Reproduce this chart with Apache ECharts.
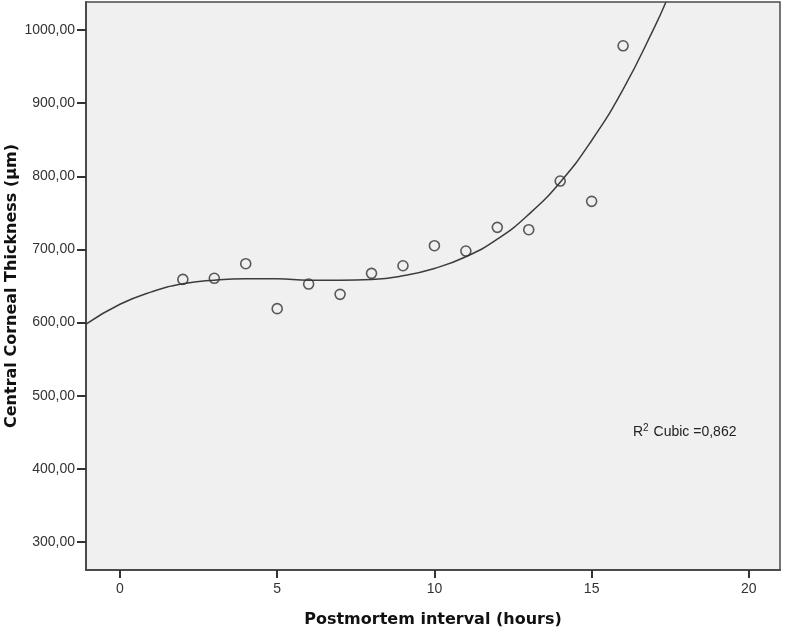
<!DOCTYPE html>
<html>
<head>
<meta charset="utf-8">
<title>Central Corneal Thickness vs Postmortem interval</title>
<script src="https://cdn.jsdelivr.net/npm/echarts@6/dist/echarts.min.js"></script>
<style>
  html, body { margin: 0; padding: 0; background: #ffffff; }
  #chart { width: 786px; height: 632px; }
</style>
</head>
<body>
<div id="chart"></div>
<script>
// observed points
var hours = [2, 3, 4, 5, 6, 7, 8, 9, 10, 11, 12, 13, 14, 15, 16];
var thickness = [659, 660.5, 680.5, 619, 652.7, 638.6, 667.3, 677.7, 705.1, 697.8, 730.2, 727, 793.5, 765.8, 978.5];

// fitted cubic curve
var fitHours = [-1.08, 0, 1, 2, 3, 4, 5, 6, 7, 8, 9, 10, 11, 12, 13, 14, 15, 16, 17, 17.36];
var fitThickness = [598, 625, 642, 653, 658, 660, 660, 658, 658, 659, 664, 674, 690, 714, 748, 792, 849, 919, 1004, 1038];

var xTicks = [0, 5, 10, 15, 20];
var yTicks = [300, 400, 500, 600, 700, 800, 900, 1000];

var fitLabel = 'Cubic =0,862';

function zip(a, b) {
  var out = [];
  for (var i = 0; i < a.length; i++) out.push([a[i], b[i]]);
  return out;
}

var myChart = echarts.init(document.getElementById('chart'));
var labelFont = 'Liberation Sans, Arial, sans-serif';
var titleFont = 'DejaVu Sans, Verdana, sans-serif';

var option = {
  backgroundColor: '#ffffff',
  animation: false,
  grid: {
    left: 86, right: 6, top: 2, bottom: 62,
    outerBoundsMode: 'none',
    containLabel: false,
    show: true,
    backgroundColor: '#f0f0f0',
    borderColor: '#4a4a4a',
    borderWidth: 1.5
  },
  xAxis: {
    type: 'value',
    min: -1.08,
    max: 20.99,
    name: 'Postmortem interval (hours)',
    nameLocation: 'middle',
    nameGap: 42,
    nameTextStyle: { fontFamily: titleFont, fontSize: 16, fontWeight: 'bold', color: '#111' },
    axisLine: { show: true, onZero: false, lineStyle: { color: '#4a4a4a', width: 2 } },
    axisTick: { show: true, length: 8, lineStyle: { color: '#333', width: 2 }, customValues: xTicks },
    axisLabel: { margin: 12, fontFamily: labelFont, fontSize: 14, color: '#333', customValues: xTicks },
    splitLine: { show: false }
  },
  yAxis: {
    type: 'value',
    min: 261.6,
    max: 1038.4,
    name: 'Central Corneal Thickness (µm)',
    nameLocation: 'middle',
    nameGap: 66,
    nameMoveOverlap: false,
    nameTextStyle: { fontFamily: titleFont, fontSize: 16, fontWeight: 'bold', color: '#111' },
    axisLine: { show: true, onZero: false, lineStyle: { color: '#4a4a4a', width: 2 } },
    axisTick: { show: true, length: 9, lineStyle: { color: '#333', width: 2 }, customValues: yTicks },
    axisLabel: {
      margin: 11, fontFamily: labelFont, fontSize: 14, color: '#333', customValues: yTicks,
      formatter: function (v) { return v.toFixed(2).replace('.', ','); }
    },
    splitLine: { show: false }
  },
  graphic: [{
    type: 'text',
    left: 633,
    top: 423,
    style: {
      text: '{r|R}{s|2}{r| ' + fitLabel + '}',
      rich: {
        r: { fontFamily: labelFont, fontSize: 14, fill: '#222', verticalAlign: 'bottom' },
        s: { fontFamily: labelFont, fontSize: 10, fill: '#222', verticalAlign: 'top', padding: [0, 1, 6, 0] }
      }
    }
  }],
  series: [
    {
      name: 'Cubic',
      type: 'line',
      data: zip(fitHours, fitThickness),
      smooth: 0.5,
      showSymbol: false,
      clip: true,
      lineStyle: { color: '#3c3c3c', width: 1.5 },
      z: 2
    },
    {
      name: 'Observed',
      type: 'scatter',
      data: zip(hours, thickness),
      symbol: 'circle',
      symbolSize: 10,
      itemStyle: { color: 'rgba(0,0,0,0)', borderColor: '#333', borderWidth: 1.6 },
      z: 3
    }
  ]
};

myChart.setOption(option);
window.onresize = function () { myChart.resize(); };
</script>
</body>
</html>
